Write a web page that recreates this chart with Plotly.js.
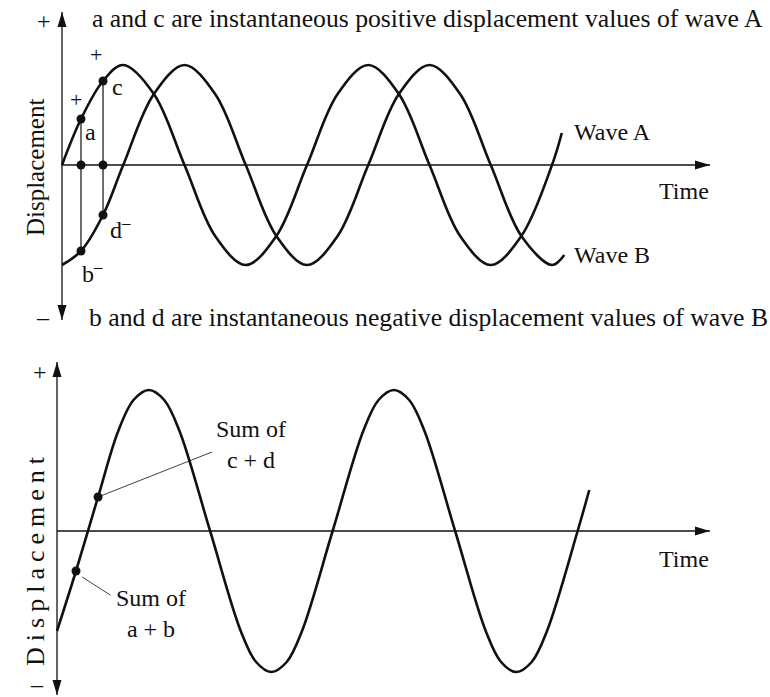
<!DOCTYPE html>
<html>
<head>
<meta charset="utf-8">
<script src="https://cdn.plot.ly/plotly-3.0.1.min.js"></script>
<style>html,body{margin:0;padding:0;background:#fff}</style>
</head>
<body>
<div id="chart" style="width:770px;height:697px"></div>
<script>
// Time is measured in quarter periods, displacement in units of one wave's amplitude.

// Wave A: key points along the curve
const waveATime = [0, 1, 1.5, 2, 2.5, 3, 3.5, 4, 4.5, 5, 5.5, 6, 6.5, 7, 7.5, 8, 8.16];
const waveADisp = [0, 1, 0.71, 0, -0.71, -1, -0.71, 0, 0.71, 1, 0.71, 0, -0.71, -1, -0.71, 0, 0.32];

// Wave B: key points along the curve
const waveBTime = [0, 1, 1.5, 2, 2.5, 3, 3.5, 4, 4.5, 5, 5.5, 6, 6.5, 7, 7.5, 8, 8.2];
const waveBDisp = [-1, 0, 0.71, 1, 0.71, 0, -0.71, -1, -0.71, 0, 0.71, 1, 0.71, 0, -0.71, -1, -0.9];

// Resultant wave (A + B): key points along the curve
const sumTime = [0, 1, 1.25, 1.5, 1.75, 2, 2.5, 3, 3.25, 3.5, 3.75, 4, 4.5,
                 5, 5.25, 5.5, 5.75, 6, 6.5, 7, 7.25, 7.5, 7.75, 8, 8.5, 8.69];
const sumDisp = [-1, 1, 1.31, 1.41, 1.31, 1, 0, -1, -1.31, -1.41, -1.31, -1, 0,
                 1, 1.31, 1.41, 1.31, 1, 0, -1, -1.31, -1.41, -1.31, -1, 0, 0.41];

// Two instants: readings a, c on wave A and b, d on wave B
const sampleTime = [0.31, 0.67];
const sampleA = [0.46, 0.84];   // a, c
const sampleB = [-0.86, -0.50]; // b, d
const sampleSum = sampleA.map((v, i) => +(v + sampleB[i]).toFixed(2)); // a + b, c + d

// Axis extents (arrow tips)
const topAxisY = [-1.55, 1.53], topAxisT = 10.58;
const botAxisY = [-1.64, 1.69], botAxisT = 10.66;

// ---- figure geometry ----
const W = 770, H = 697;
const topX = [-1.0122, 11.5592], topY = [-5.32, 1.65];
const botX = [-0.9306, 11.6408], botY = [-1.66, 5.31];

// merge sample points into a curve's key points, keeping time order
function withSamples(t, v, st, sv) {
  const pts = t.map((x, i) => [x, v[i]]).concat(st.map((x, i) => [x, sv[i]]));
  pts.sort((p, q) => p[0] - q[0]);
  return {x: pts.map(p => p[0]), y: pts.map(p => p[1])};
}

const INK = '#111';
const FONT = 'Liberation Serif, Times New Roman, serif';

const curveA = withSamples(waveATime, waveADisp, sampleTime, sampleA);
const curveB = withSamples(waveBTime, waveBDisp, sampleTime, sampleB);
const curveS = withSamples(sumTime, sumDisp, sampleTime, sampleSum);

const waveLine = {color: INK, width: 2.6, shape: 'spline', smoothing: 1};
const dot = {color: INK, size: 9};

const traces = [
  {x: curveA.x, y: curveA.y, mode: 'lines', line: waveLine, xaxis: 'x', yaxis: 'y'},
  {x: curveB.x, y: curveB.y, mode: 'lines', line: waveLine, xaxis: 'x', yaxis: 'y'},
  // drop lines linking the readings at each instant
  {x: [sampleTime[0], sampleTime[0], null, sampleTime[1], sampleTime[1]],
   y: [sampleA[0], sampleB[0], null, sampleA[1], sampleB[1]],
   mode: 'lines', line: {color: INK, width: 1.2}, xaxis: 'x', yaxis: 'y'},
  {x: sampleTime, y: sampleA, mode: 'markers', marker: dot, xaxis: 'x', yaxis: 'y'},
  {x: sampleTime, y: sampleB, mode: 'markers', marker: dot, xaxis: 'x', yaxis: 'y'},
  {x: sampleTime, y: sampleTime.map(() => 0), mode: 'markers', marker: dot, xaxis: 'x', yaxis: 'y'},
  {x: curveS.x, y: curveS.y, mode: 'lines', line: waveLine, xaxis: 'x2', yaxis: 'y2'},
  {x: sampleTime, y: sampleSum, mode: 'markers', marker: dot, xaxis: 'x2', yaxis: 'y2'}
];

// filled arrowhead in data coordinates, sized in pixels
function arrowHead(xr, yr, tx, ty, dir, xref, yref) {
  const kx = W / (xr[1] - xr[0]), ky = H / (yr[1] - yr[0]);
  const L = 15, w = 9;
  let p;
  if (dir === 'up') {
    const b = ty - L / ky, h = w / 2 / kx;
    p = `M${tx},${ty} L${tx - h},${b} L${tx + h},${b} Z`;
  } else if (dir === 'down') {
    const b = ty + L / ky, h = w / 2 / kx;
    p = `M${tx},${ty} L${tx - h},${b} L${tx + h},${b} Z`;
  } else {
    const b = tx - L / kx, h = w / 2 / ky;
    p = `M${tx},${ty} L${b},${ty - h} L${b},${ty + h} Z`;
  }
  return {type: 'path', path: p, xref, yref, fillcolor: INK, line: {width: 0}};
}

function seg(x0, y0, x1, y1, xref, yref, width) {
  return {type: 'line', x0, y0, x1, y1, xref, yref, line: {color: INK, width}};
}

const shapes = [
  seg(0, topAxisY[0], 0, topAxisY[1], 'x', 'y', 1.3),
  seg(0, 0, topAxisT, 0, 'x', 'y', 1.3),
  arrowHead(topX, topY, 0, topAxisY[1], 'up', 'x', 'y'),
  arrowHead(topX, topY, 0, topAxisY[0], 'down', 'x', 'y'),
  arrowHead(topX, topY, topAxisT, 0, 'right', 'x', 'y'),
  seg(0, botAxisY[0], 0, botAxisY[1], 'x2', 'y2', 1.3),
  seg(0, 0, botAxisT, 0, 'x2', 'y2', 1.3),
  arrowHead(botX, botY, 0, botAxisY[1], 'up', 'x2', 'y2'),
  arrowHead(botX, botY, 0, botAxisY[0], 'down', 'x2', 'y2'),
  arrowHead(botX, botY, botAxisT, 0, 'right', 'x2', 'y2'),
  // leader lines to the sum labels
  seg(sampleTime[1], sampleSum[1], 2.53, 0.79, 'x2', 'y2', 0.8),
  seg(sampleTime[0] + 0.1, sampleSum[0] - 0.06, 0.87, -0.64, 'x2', 'y2', 0.8)
];

function label(text, x, y, ax, size, opts) {
  return Object.assign({
    text, x, y, xref: ax === 2 ? 'x2' : 'x', yref: ax === 2 ? 'y2' : 'y',
    showarrow: false, xanchor: 'center', yanchor: 'middle',
    font: {family: FONT, size: size, color: INK}
  }, opts || {});
}

const annotations = [
  label('a and c are instantaneous positive displacement values of wave A', 0.46, 1.47, 1, 25.7, {xanchor: 'left'}),
  label('b and d are instantaneous negative displacement values of wave B', 0.41, -1.52, 1, 25.7, {xanchor: 'left'}),
  label('+', -0.29, 1.44, 1, 24),
  label('–', -0.31, -1.52, 1, 24),
  label('Displacement', -0.44, -0.02, 1, 25, {textangle: -90}),
  label('+', 0.23, 0.66, 1, 22),
  label('+', 0.555, 1.11, 1, 22),
  label('a', 0.46, 0.33, 1, 24),
  label('c', 0.90, 0.78, 1, 24),
  label('d<sup>–</sup>', 0.96, -0.63, 1, 24),
  label('b<sup>–</sup>', 0.50, -1.07, 1, 24),
  label('Wave A', 8.33, 0.33, 1, 24, {xanchor: 'left'}),
  label('Wave B', 8.33, -0.90, 1, 24, {xanchor: 'left'}),
  label('Time', 10.16, -0.26, 1, 24),
  label('+', -0.28, 1.59, 2, 24),
  label('–', -0.33, -1.53, 2, 24),
  label('Displacement', -0.36, -0.27, 2, 26, {textangle: -90}),
  label('Time', 10.24, -0.28, 2, 24),
  label('Sum of<br>c + d', 3.17, 0.87, 2, 24),
  label('Sum of<br>a + b', 1.53, -0.82, 2, 24)
];

const hidden = {visible: false, fixedrange: true};
const layout = {
  width: W, height: H,
  margin: {l: 0, r: 0, t: 0, b: 0},
  paper_bgcolor: '#fff', plot_bgcolor: '#fff',
  showlegend: false,
  xaxis: Object.assign({range: topX, domain: [0, 1]}, hidden),
  yaxis: Object.assign({range: topY, domain: [0, 1]}, hidden),
  xaxis2: Object.assign({range: botX, overlaying: 'x', anchor: 'y2'}, hidden),
  yaxis2: Object.assign({range: botY, overlaying: 'y', anchor: 'x2'}, hidden),
  shapes, annotations
};

Plotly.newPlot('chart', traces, layout, {staticPlot: true, displayModeBar: false}).then(gd => {
  // the lower axis label is set with wide tracking
  const texts = gd.querySelectorAll('.annotation-text');
  const lower = Array.from(texts).filter(t => t.textContent === 'Displacement')[1];
  if (lower) lower.style.letterSpacing = '6px';
});
</script>
</body>
</html>
